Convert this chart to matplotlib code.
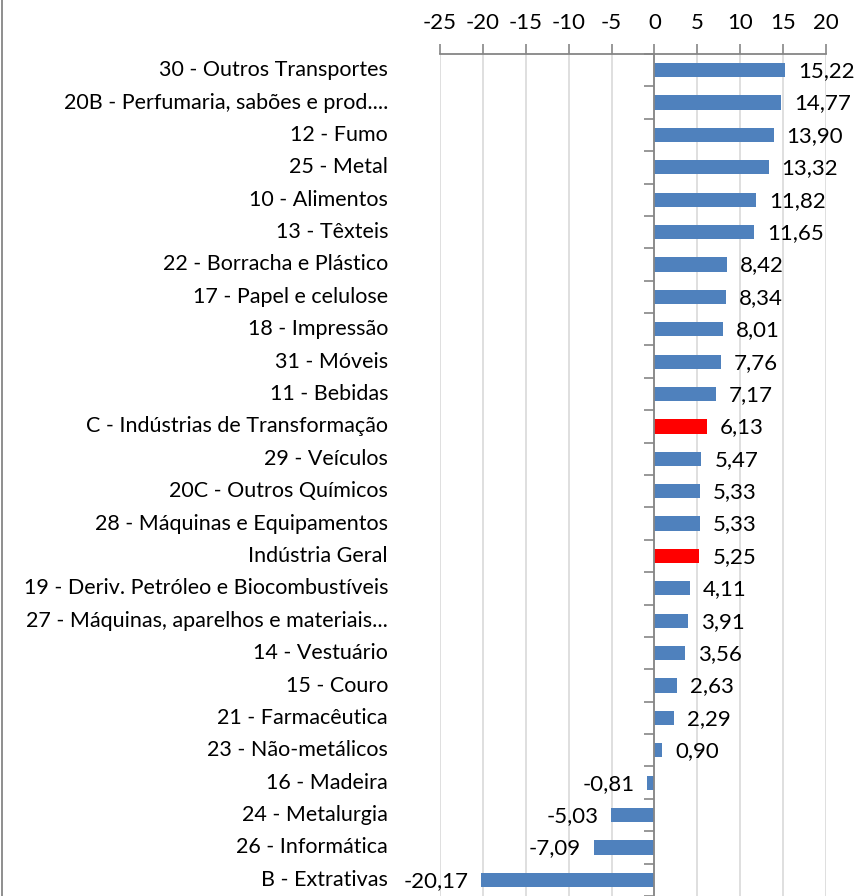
import matplotlib
matplotlib.use("Agg")
import matplotlib.pyplot as plt
from matplotlib.lines import Line2D
import numpy as np

categories = [
    "30 - Outros Transportes",
    "20B - Perfumaria, sabões e prod....",
    "12 - Fumo",
    "25 - Metal",
    "10 - Alimentos",
    "13 - Têxteis",
    "22 - Borracha e Plástico",
    "17 - Papel e celulose",
    "18 - Impressão",
    "31 - Móveis",
    "11 - Bebidas",
    "C - Indústrias de Transformação",
    "29 - Veículos",
    "20C - Outros Químicos",
    "28 - Máquinas e Equipamentos",
    "Indústria Geral",
    "19 - Deriv. Petróleo e Biocombustíveis",
    "27 - Máquinas, aparelhos e materiais...",
    "14 - Vestuário",
    "15 - Couro",
    "21 - Farmacêutica",
    "23 - Não-metálicos",
    "16 - Madeira",
    "24 - Metalurgia",
    "26 - Informática",
    "B - Extrativas",
]
values = [15.22, 14.77, 13.90, 13.32, 11.82, 11.65, 8.42, 8.34, 8.01, 7.76, 7.17,
          6.13, 5.47, 5.33, 5.33, 5.25, 4.11, 3.91, 3.56, 2.63, 2.29, 0.90,
          -0.81, -5.03, -7.09, -20.17]
highlight = ["C - Indústrias de Transformação", "Indústria Geral"]
xticks = [-25, -20, -15, -10, -5, 0, 5, 10, 15, 20]

plt.rcParams['font.family'] = ['Lato', 'DejaVu Sans']
FS = 15.5

W, H = 860, 896
fig = plt.figure(figsize=(W / 100, H / 100), dpi=100)
left, right, top, bottom = 440, 826, 54, 896
ax = fig.add_axes([left / W, 1 - bottom / H, (right - left) / W, (bottom - top) / H])

n = len(categories)
y = np.arange(n)
colors = ["#FF0000" if c in highlight else "#4F81BD" for c in categories]
ax.barh(y, values, height=0.44, color=colors, zorder=3)

ax.set_xlim(-25, 20)
ax.set_ylim(n - 0.5, -0.5)
ax.set_xticks(xticks)
ax.set_xticklabels([str(t) for t in xticks], fontsize=FS + 0.5, color="#000000")
ax.xaxis.tick_top()
ax.tick_params(axis='x', which='major', direction='out', length=7, width=1.2,
               color="#868686", pad=8)
ax.grid(axis='x', color="#D9D9D9", linewidth=1.2, zorder=0)

for s in ['bottom', 'right']:
    ax.spines[s].set_visible(False)
ax.spines['top'].set_color("#868686")
ax.spines['top'].set_linewidth(1.3)
ax.spines['left'].set_position(('data', 0))
ax.spines['left'].set_color("#868686")
ax.spines['left'].set_linewidth(1.3)
ax.spines['left'].set_zorder(4)
ax.set_yticks(np.arange(n + 1) - 0.5)
ax.set_yticklabels([])
ax.tick_params(axis='y', direction='out', length=7, width=1.2, color="#868686")

trans = ax.get_yaxis_transform()
for i, c in enumerate(categories):
    ax.text(-52 / (right - left), i, c, transform=trans, ha='right', va='center',
            fontsize=FS, color="#000000")

for i, v in enumerate(values):
    lab = f"{v:.2f}".replace('.', ',')
    if v >= 0:
        ax.annotate(lab, (v, i), xytext=(13, -1), textcoords='offset pixels',
                    ha='left', va='center', fontsize=FS + 0.5, color="#000000",
                    annotation_clip=False)
    else:
        ax.annotate(lab, (v, i), xytext=(-13, -1), textcoords='offset pixels',
                    ha='right', va='center', fontsize=FS + 0.5, color="#000000",
                    annotation_clip=False)

fig.add_artist(Line2D([1.5 / W, 1.5 / W], [0, 1], transform=fig.transFigure,
                      color="#868686", linewidth=1.3))

fig.savefig("out.png", dpi=100)
